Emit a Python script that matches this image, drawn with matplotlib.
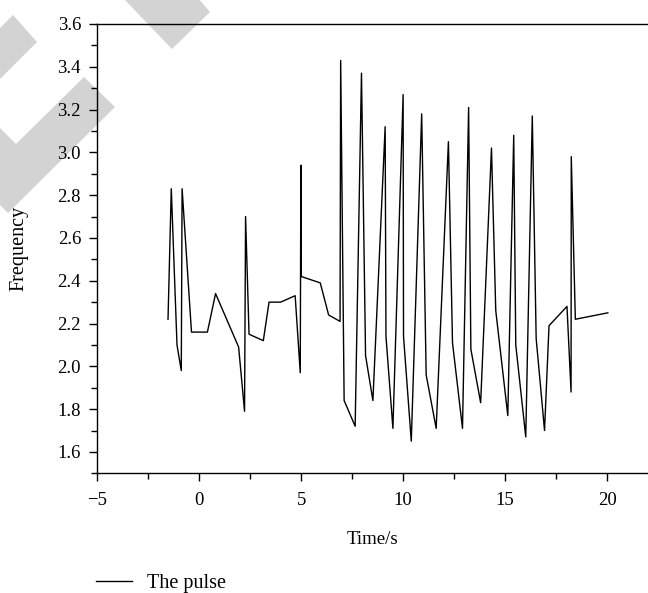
import matplotlib
matplotlib.use('Agg')
import matplotlib.pyplot as plt
from matplotlib.patches import Polygon
from matplotlib.ticker import MultipleLocator

plt.rcParams['font.family'] = ['Liberation Serif', 'DejaVu Serif']

# pulse trace
time_s = [-1.52, -1.36, -1.08, -0.87, -0.83, -0.37, 0.41, 0.81, 1.94, 2.23,
          2.28, 2.45, 3.15, 3.43, 4.00, 4.71, 4.96, 4.99, 5.00, 5.94,
          6.35, 6.91, 6.94, 7.11, 7.65, 7.96, 8.16, 8.52, 9.12, 9.16,
          9.50, 10.00, 10.02, 10.40, 10.91, 11.13, 11.62, 12.22, 12.42, 12.91,
          13.21, 13.32, 13.80, 14.33, 14.54, 15.13, 15.42, 15.52, 16.01, 16.33,
          16.52, 16.93, 17.15, 18.03, 18.23, 18.24, 18.44, 20.03]
freq = [2.22, 2.83, 2.10, 1.98, 2.83, 2.16, 2.16, 2.34, 2.09, 1.79,
        2.70, 2.15, 2.12, 2.30, 2.30, 2.33, 1.97, 2.94, 2.42, 2.39,
        2.24, 2.21, 3.43, 1.84, 1.72, 3.37, 2.05, 1.84, 3.12, 2.14,
        1.71, 3.27, 2.14, 1.65, 3.18, 1.96, 1.71, 3.05, 2.11, 1.71,
        3.21, 2.08, 1.83, 3.02, 2.26, 1.77, 3.08, 2.10, 1.67, 3.17,
        2.13, 1.70, 2.19, 2.28, 1.88, 2.98, 2.22, 2.25]

x_ticks = [-5, 0, 5, 10, 15, 20]
y_ticks = [1.6, 1.8, 2.0, 2.2, 2.4, 2.6, 2.8, 3.0, 3.2, 3.4, 3.6]

W, H = 648, 593
fig = plt.figure(figsize=(W / 100, H / 100), dpi=100)
ax = fig.add_axes([97 / W, 1 - 473.3 / H, 1 - 97 / W, (473.3 - 24) / H])

# grey watermark bands (pixel corners, top-left origin)
bands = [
    [(123, -2), (172, 49), (210, 12), (198, -2)],
    [(-2, 30), (13, 15), (37, 42), (-2, 81)],
    [(-2, 126), (16, 144), (84, 77), (115, 107), (8, 213), (-2, 203)],
]
for b in bands:
    pts = [(px / W, 1 - py / H) for px, py in b]
    ax.add_patch(Polygon(pts, closed=True, transform=fig.transFigure,
                         facecolor='#d3d3d3', edgecolor='none', zorder=0.1, clip_on=False))

ax.plot(time_s, freq, color='black', lw=1.0, label='The pulse', zorder=3)

ax.set_xlim(-5, 22)
ax.set_ylim(1.5, 3.6)
ax.set_xticks(x_ticks)
ax.set_yticks(y_ticks)
ax.xaxis.set_minor_locator(MultipleLocator(2.5))
ax.yaxis.set_minor_locator(MultipleLocator(0.1))
ax.tick_params(which='major', direction='out', length=5.5, width=1.0, labelsize=13.5)
ax.tick_params(which='minor', direction='out', length=4.3, width=1.0)
ax.tick_params(axis='x', which='major', pad=8)
ax.tick_params(axis='y', which='major', pad=6)
ax.tick_params(top=False, right=False, which='both')
ax.spines['right'].set_visible(False)
for s in ['left', 'bottom', 'top']:
    ax.spines[s].set_linewidth(1.0)

ax.set_xlabel('Time/s', fontsize=13.5)
ax.set_ylabel('Frequency', fontsize=14.5)
ax.xaxis.set_label_coords((372 - 97) / 551, -(531 - 473.3) / 449.3)
ax.yaxis.set_label_coords((28 - 97) / 551, 0.5)

ax.legend(loc='center left', bbox_to_anchor=(-0.035, -(583 - 473.3) / 449.3), frameon=False,
          fontsize=14.5, handlelength=1.8, handletextpad=0.75)

fig.savefig('out.png', dpi=100)
